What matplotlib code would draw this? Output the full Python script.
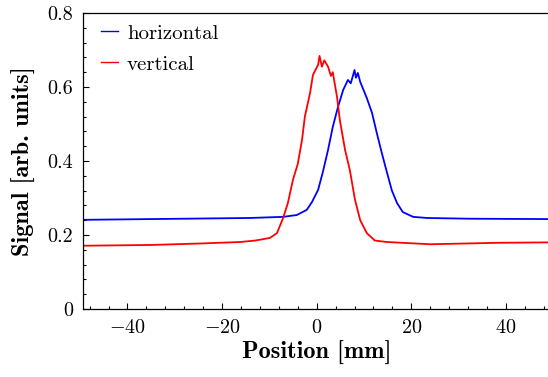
#!/usr/bin/env python3

import matplotlib
matplotlib.use('Agg')
import matplotlib.pyplot as plt
from matplotlib.ticker import MultipleLocator, FuncFormatter

# Beam profile (position in mm, signal in arb. units).
pos_h = [-49.4, -35.2, -14.1, -7.1, -4.2, -2.1, -1.0, 0.3, 1.3, 2.4, 3.4, 4.5,
         5.6, 6.6, 7.2, 7.7, 8.0, 8.3, 8.7, 9.2, 10.6, 11.7, 12.7, 13.8, 14.9,
         15.9, 17.0, 18.2, 20.4, 23.3, 32.4, 48.9]
sig_h = [0.241, 0.243, 0.246, 0.249, 0.254, 0.268, 0.289, 0.322, 0.370, 0.430,
         0.492, 0.546, 0.592, 0.619, 0.610, 0.632, 0.646, 0.625, 0.638, 0.614,
         0.570, 0.530, 0.476, 0.420, 0.367, 0.320, 0.286, 0.262, 0.249, 0.246,
         0.244, 0.243]

pos_v = [-49.4, -35.2, -24.7, -16.2, -13.0, -9.9, -8.4, -7.1, -6.1, -5.0, -4.0,
         -3.1, -2.5, -1.4, -0.8, -0.3, 0.3, 0.6, 1.1, 1.6, 2.4, 3.0, 3.4, 4.3,
         4.9, 6.0, 7.0, 8.1, 9.2, 10.6, 12.3, 14.9, 24.0, 38.8, 48.9]
sig_v = [0.171, 0.173, 0.177, 0.181, 0.185, 0.192, 0.205, 0.246, 0.286, 0.350,
         0.392, 0.457, 0.520, 0.584, 0.632, 0.645, 0.660, 0.684, 0.655, 0.672,
         0.655, 0.630, 0.640, 0.573, 0.510, 0.430, 0.376, 0.295, 0.240, 0.205,
         0.185, 0.181, 0.175, 0.179, 0.180]

labels = ['horizontal', 'vertical']
colors = ['blue', 'red']

TICK_SIZE = 14.5
LEGEND_SIZE = 15
LABEL_SIZE = 17.5

plt.rcParams['font.family'] = 'cmr10'
plt.rcParams['mathtext.fontset'] = 'cm'
plt.rcParams['axes.formatter.use_mathtext'] = True
plt.rcParams['axes.unicode_minus'] = True


def setup_axes(ax):
    ax.set_xlim(-49.4, 49.4)
    ax.set_ylim(0, 0.8)

    ax.xaxis.set_major_locator(MultipleLocator(20))
    ax.xaxis.set_minor_locator(MultipleLocator(4))
    ax.yaxis.set_major_locator(MultipleLocator(0.2))
    ax.yaxis.set_minor_locator(MultipleLocator(0.04))
    # "0" rather than "0.0" on the signal axis
    ax.yaxis.set_major_formatter(FuncFormatter(lambda v, p: f'{v:g}'))

    ax.tick_params(which = 'both', direction = 'in', top = False, right = False,
                   width = 0.8, labelsize = TICK_SIZE, pad = 7)
    ax.tick_params(which = 'major', length = 4)
    ax.tick_params(which = 'minor', length = 2)

    for spine in ax.spines.values():
        spine.set_linewidth(0.9)

    ax.set_xlabel('Position [mm]', fontfamily = 'cmb10', fontsize = LABEL_SIZE,
                  labelpad = 3)
    ax.set_ylabel('Signal [arb. units]', fontfamily = 'cmb10', fontsize = LABEL_SIZE,
                  labelpad = 8)


def main():
    fig = plt.figure(figsize = (5.48, 3.77), dpi = 100)
    ax = fig.add_axes([0.1515, 0.1804, 0.8528, 0.7851])

    ax.plot(pos_h, sig_h, color = colors[0], lw = 1.3, label = labels[0])
    ax.plot(pos_v, sig_v, color = colors[1], lw = 1.3, label = labels[1])

    setup_axes(ax)

    leg = ax.legend(loc = 'upper left', frameon = False, fontsize = LEGEND_SIZE,
                    handlelength = 0.8, handletextpad = 0.45, labelspacing = 0.6,
                    borderaxespad = 0.2, bbox_to_anchor = (0.0115, 1.005))
    for line in leg.get_lines():
        line.set_linewidth(1.0)

    fig.savefig('out.png', dpi = 100)


if __name__ == '__main__':
    main()
